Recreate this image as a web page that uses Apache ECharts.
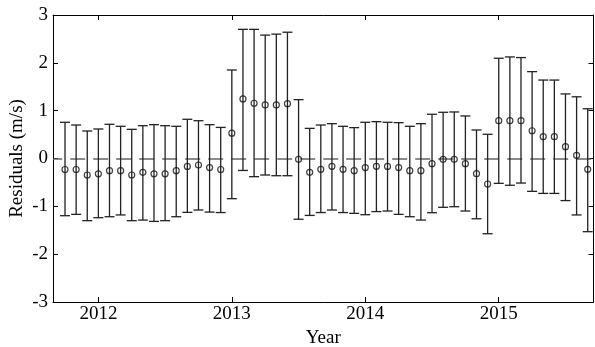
<!DOCTYPE html>
<html>
<head>
<meta charset="utf-8">
<script src="https://cdn.jsdelivr.net/npm/echarts@6/dist/echarts.min.js"></script>
<style>html,body{margin:0;padding:0;background:#fff}#c{width:595px;height:347px}</style>
</head>
<body>
<div id="c"></div>
<script>
const months = ['2011-10','2011-11','2011-12',
 '2012-01','2012-02','2012-03','2012-04','2012-05','2012-06','2012-07','2012-08','2012-09','2012-10','2012-11','2012-12',
 '2013-01','2013-02','2013-03','2013-04','2013-05','2013-06','2013-07','2013-08','2013-09','2013-10','2013-11','2013-12',
 '2014-01','2014-02','2014-03','2014-04','2014-05','2014-06','2014-07','2014-08','2014-09','2014-10','2014-11','2014-12',
 '2015-01','2015-02','2015-03','2015-04','2015-05','2015-06','2015-07','2015-08','2015-09'];
const residuals = [-0.23,-0.23,-0.345,-0.32,-0.255,-0.255,-0.345,-0.29,-0.32,-0.32,-0.255,-0.165,-0.136,-0.19,-0.23,
 0.53,1.245,1.155,1.12,1.12,1.147,-0.017,-0.29,-0.226,-0.163,-0.226,-0.255,-0.19,-0.163,-0.165,-0.19,-0.255,-0.255,
 -0.108,-0.017,-0.017,-0.108,-0.318,-0.533,0.79,0.79,0.79,0.58,0.456,0.456,0.247,0.067,-0.226];
const upper = [0.757,0.70,0.575,0.617,0.715,0.673,0.61,0.686,0.707,0.686,0.673,0.82,0.79,0.707,0.65,
 1.85,2.70,2.70,2.58,2.60,2.64,1.23,0.63,0.70,0.728,0.673,0.645,0.757,0.77,0.757,0.75,0.673,0.728,
 0.925,0.966,0.973,0.889,0.596,0.506,2.096,2.123,2.11,1.816,1.64,1.64,1.35,1.29,1.04];
const lower = [-1.196,-1.168,-1.30,-1.238,-1.217,-1.18,-1.30,-1.287,-1.315,-1.30,-1.217,-1.126,-1.077,-1.12,-1.13,
 -0.84,-0.25,-0.38,-0.345,-0.36,-0.36,-1.27,-1.19,-1.13,-1.077,-1.13,-1.147,-1.175,-1.11,-1.098,-1.168,-1.217,-1.287,
 -1.133,-1.02,-1.008,-1.098,-1.26,-1.573,-0.52,-0.56,-0.513,-0.687,-0.73,-0.73,-0.88,-1.18,-1.53];
const yearTicks = [2012, 2013, 2014, 2015];

const xs = months.map(m => { const [y, mo] = m.split('-').map(Number); return y + (mo - 1) / 12; });
const errData = xs.map((x, i) => [x, lower[i], upper[i]]);
const ptData = xs.map((x, i) => [x, residuals[i]]);

const FONT = 'Liberation Serif';
const XMIN = 2011.66, XMAX = 2015.71;
const barStyle = { stroke: '#222', lineWidth: 1.3 };

const chart = echarts.init(document.getElementById('c'), null, { renderer: 'canvas' });
chart.setOption({
  animation: false,
  backgroundColor: '#fff',
  grid: { left: 53, right: 1.5, top: 15, bottom: 45, containLabel: false, outerBoundsMode: 'none' },
  xAxis: [{
    type: 'value', min: XMIN, max: XMAX, position: 'bottom',
    name: 'Year', nameLocation: 'middle', nameGap: 27, nameMoveOverlap: false,
    nameTextStyle: { fontFamily: FONT, fontSize: 19, color: '#000' },
    axisLine: { onZero: false, lineStyle: { color: '#000', width: 1 } },
    axisTick: { inside: true, length: 5, customValues: yearTicks, lineStyle: { color: '#000' } },
    axisLabel: { customValues: yearTicks, formatter: v => String(v), fontFamily: FONT, fontSize: 19, color: '#000', margin: 3 },
    splitLine: { show: false }
  }, {
    type: 'value', min: XMIN, max: XMAX, position: 'top',
    axisLine: { onZero: false, lineStyle: { color: '#000', width: 1 } },
    axisTick: { inside: true, length: 5, customValues: yearTicks, lineStyle: { color: '#000' } },
    axisLabel: { show: false }, splitLine: { show: false }
  }],
  yAxis: [{
    type: 'value', min: -3, max: 3, interval: 1, position: 'left',
    name: 'Residuals (m/s)', nameLocation: 'middle', nameGap: 26, nameMoveOverlap: false,
    nameTextStyle: { fontFamily: FONT, fontSize: 19, color: '#000' },
    axisLine: { show: true, onZero: false, lineStyle: { color: '#000', width: 1 } },
    axisTick: { show: true, inside: true, length: 5, lineStyle: { color: '#000' } },
    axisLabel: { fontFamily: FONT, fontSize: 19, color: '#000', margin: 5 },
    splitLine: { show: false }
  }, {
    type: 'value', min: -3, max: 3, interval: 1, position: 'right',
    axisLine: { show: true, onZero: false, lineStyle: { color: '#000', width: 1 } },
    axisTick: { show: true, inside: true, length: 5, lineStyle: { color: '#000' } },
    axisLabel: { show: false }, splitLine: { show: false }
  }],
  series: [{
    type: 'custom',
    xAxisIndex: 0, yAxisIndex: 0,
    data: errData,
    renderItem: (params, api) => {
      const x = api.value(0);
      const pLo = api.coord([x, api.value(1)]);
      const pHi = api.coord([x, api.value(2)]);
      const hw = 5;
      return {
        type: 'group',
        children: [
          { type: 'line', shape: { x1: pHi[0], y1: pHi[1], x2: pLo[0], y2: pLo[1] }, style: barStyle },
          { type: 'line', shape: { x1: pHi[0] - hw, y1: pHi[1], x2: pHi[0] + hw, y2: pHi[1] }, style: barStyle },
          { type: 'line', shape: { x1: pLo[0] - hw, y1: pLo[1], x2: pLo[0] + hw, y2: pLo[1] }, style: barStyle }
        ]
      };
    },
    markLine: {
      silent: true, symbol: 'none', label: { show: false },
      lineStyle: { color: '#666', width: 1.5, type: [15, 8], dashOffset: 5.8 },
      data: [{ yAxis: 0 }],
      z: 1
    },
    z: 2
  }, {
    type: 'scatter',
    xAxisIndex: 0, yAxisIndex: 0,
    data: ptData,
    symbol: 'circle', symbolSize: 6,
    itemStyle: { color: 'rgba(0,0,0,0)', borderColor: '#111', borderWidth: 1.2 },
    z: 3
  }]
});
</script>
</body>
</html>
